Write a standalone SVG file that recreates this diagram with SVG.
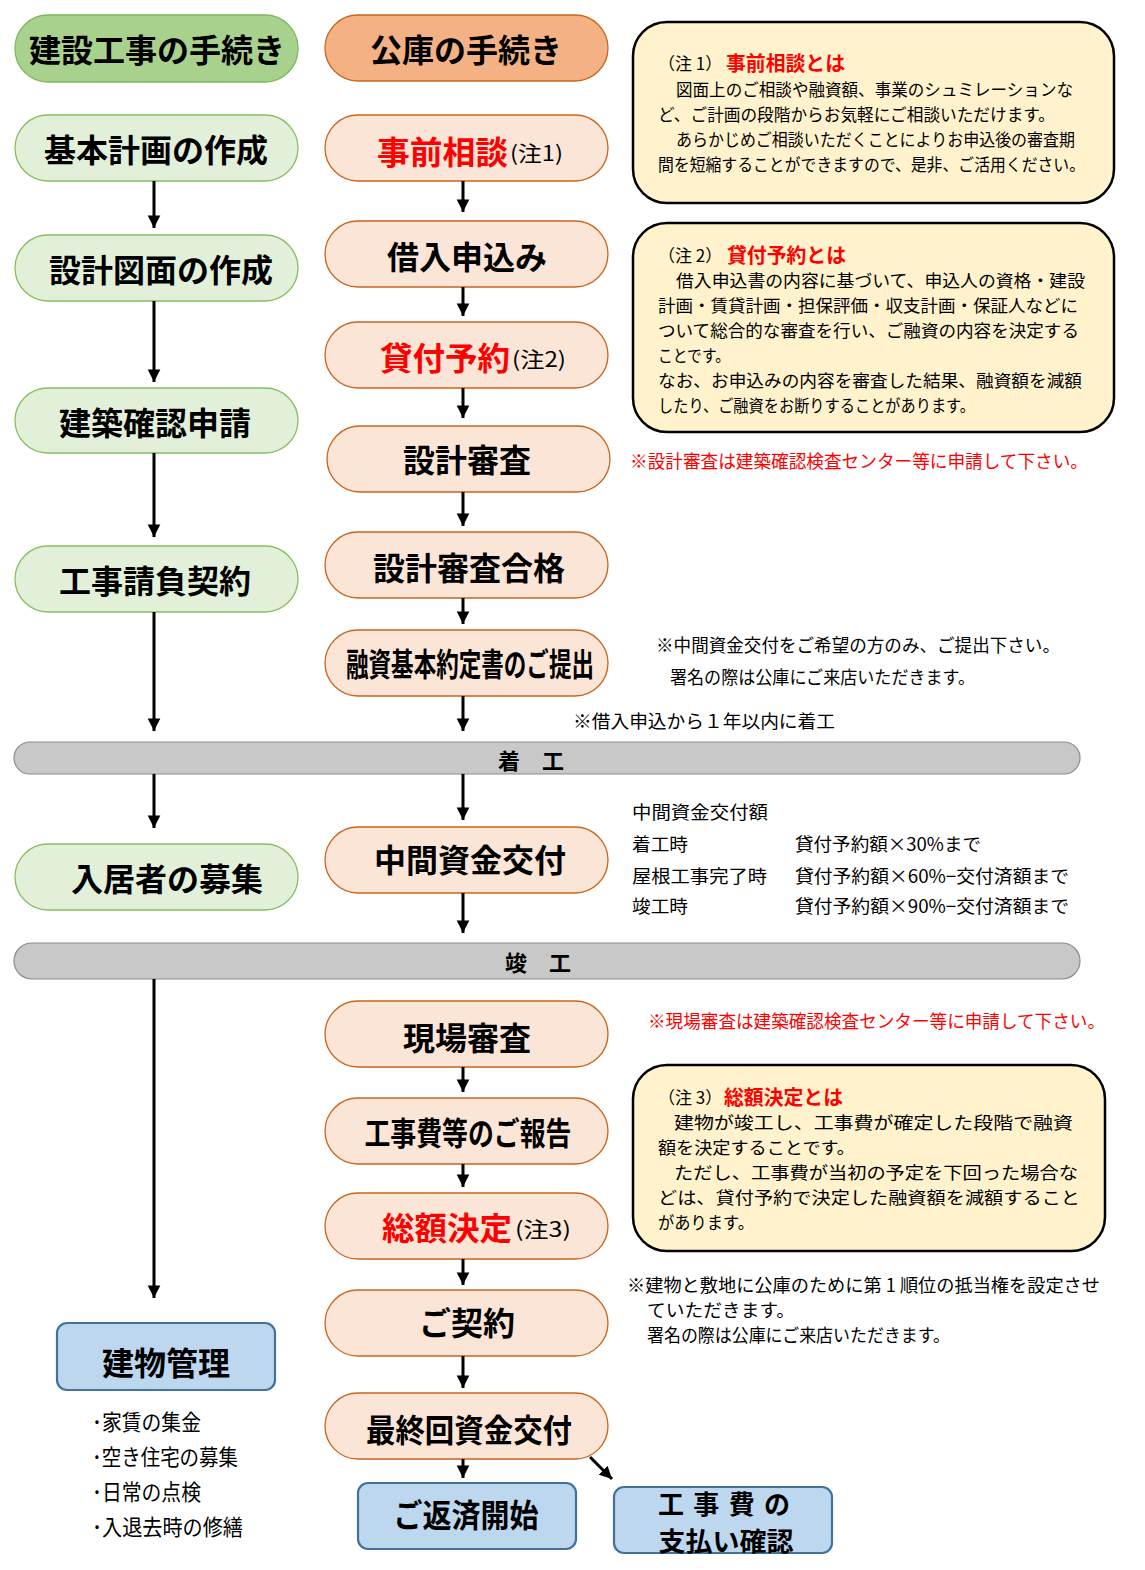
<svg xmlns="http://www.w3.org/2000/svg" width="1145" height="1570" viewBox="0 0 1145 1570">
<style>
text{font-family:"Noto Sans CJK JP","Noto Sans CJK SC",sans-serif;dominant-baseline:central;fill:#000}
.gH{fill:#a9d18e;stroke:#7fb85a;stroke-width:1.3}
.g{fill:#e2f0d9;stroke:#86bf60;stroke-width:1.3}
.oH{fill:#f4b183;stroke:#c9651f;stroke-width:1.3}
.o{fill:#fbe5d6;stroke:#c9651f;stroke-width:1.3}
.b{fill:#bdd7ee;stroke:#41719c;stroke-width:2.2}
.bar{fill:#c8c8c8;stroke:#8c8c8c;stroke-width:1.2}
.note{fill:#fff2cc;stroke:#000;stroke-width:2.5}
.lbl{font-size:32px;font-weight:bold;text-anchor:middle}
.red{fill:#ff0000}
.sm{font-size:21px}
.nt{font-size:17px}
.nh{font-size:20px;font-weight:bold;fill:#ff0000}
.rm{font-size:18px}
.bl{font-size:22px}
.conn line{stroke:#000;stroke-width:3;marker-end:url(#ah)}
</style>
<defs>
<marker id="ah" viewBox="0 0 10 10" refX="10" refY="5" markerWidth="4.2" markerHeight="4.4" orient="auto" markerUnits="strokeWidth">
<path d="M0,0 L10,5 L0,10 z" fill="#000"/>
</marker>
</defs>

<!-- Left column -->
<g id="n-kensetsu"><rect class="gH" x="15" y="15" width="283" height="67" rx="33"/><text class="lbl" x="157" y="48">建設工事の手続き</text></g>
<g id="n-kihon"><rect class="g" x="15" y="115" width="283" height="66" rx="33"/><text class="lbl" x="156" y="148">基本計画の作成</text></g>
<g id="n-sekkei"><rect class="g" x="15" y="235" width="283" height="66" rx="33"/><text class="lbl" x="161" y="268">設計図面の作成</text></g>
<g id="n-kakunin"><rect class="g" x="15" y="388" width="283" height="65" rx="33"/><text class="lbl" x="155" y="421">建築確認申請</text></g>
<g id="n-ukeoi"><rect class="g" x="15" y="546" width="283" height="66" rx="33"/><text class="lbl" x="155" y="579">工事請負契約</text></g>
<g id="n-boshu"><rect class="g" x="15" y="844" width="283" height="66" rx="33"/><text class="lbl" x="167" y="877">入居者の募集</text></g>

<!-- Middle column -->
<g id="n-koko"><rect class="oH" x="325" y="15" width="283" height="66" rx="33"/><text class="lbl" x="466" y="48">公庫の手続き</text></g>
<g id="n-jizen"><rect class="o" x="325" y="115" width="283" height="66" rx="33"/><text class="lbl red" x="377" y="150" style="text-anchor:start" textLength="131" lengthAdjust="spacingAndGlyphs">事前相談</text><text class="sm" x="510" y="152" textLength="53" lengthAdjust="spacingAndGlyphs">(注1)</text></g>
<g id="n-kariire"><rect class="o" x="325" y="221" width="283" height="66" rx="33"/><text class="lbl" x="467" y="255">借入申込み</text></g>
<g id="n-yoyaku"><rect class="o" x="325" y="322" width="283" height="66" rx="33"/><text class="lbl red" x="380" y="356" style="text-anchor:start" textLength="130" lengthAdjust="spacingAndGlyphs">貸付予約</text><text class="sm" x="512" y="358" textLength="54" lengthAdjust="spacingAndGlyphs">(注2)</text></g>
<g id="n-shinsa"><rect class="o" x="327" y="426" width="283" height="66" rx="33"/><text class="lbl" x="467" y="458">設計審査</text></g>
<g id="n-gokaku"><rect class="o" x="325" y="532" width="283" height="66" rx="33"/><text class="lbl" x="469" y="566">設計審査合格</text></g>
<g id="n-yakujo"><rect class="o" x="325" y="630" width="283" height="66" rx="33"/><text class="lbl" x="470" y="662" textLength="248" lengthAdjust="spacingAndGlyphs">融資基本約定書のご提出</text></g>
<g id="n-chukan"><rect class="o" x="325" y="827" width="283" height="66" rx="33"/><text class="lbl" x="470" y="858">中間資金交付</text></g>
<g id="n-genba"><rect class="o" x="325" y="1001" width="283" height="66" rx="33"/><text class="lbl" x="467" y="1036">現場審査</text></g>
<g id="n-hokoku"><rect class="o" x="325" y="1098" width="283" height="66" rx="33"/><text class="lbl" x="468" y="1131" textLength="207" lengthAdjust="spacingAndGlyphs">工事費等のご報告</text></g>
<g id="n-sogaku"><rect class="o" x="325" y="1193" width="283" height="66" rx="33"/><text class="lbl red" x="382" y="1226" style="text-anchor:start" textLength="130" lengthAdjust="spacingAndGlyphs">総額決定</text><text class="sm" x="515" y="1228" textLength="56" lengthAdjust="spacingAndGlyphs">(注3)</text></g>
<g id="n-keiyaku"><rect class="o" x="325" y="1290" width="283" height="66" rx="33"/><text class="lbl" x="467" y="1321">ご契約</text></g>
<g id="n-saishu"><rect class="o" x="325" y="1393" width="283" height="66" rx="33"/><text class="lbl" x="469" y="1428" textLength="206" lengthAdjust="spacingAndGlyphs">最終回資金交付</text></g>

<!-- Blue boxes -->
<g id="n-kanri"><rect class="b" x="57" y="1323" width="218" height="67" rx="10"/><text class="lbl" x="166" y="1361">建物管理</text></g>
<g id="n-hensai"><rect class="b" x="358" y="1483" width="218" height="66" rx="10"/><text class="lbl" x="466" y="1513" textLength="145" lengthAdjust="spacingAndGlyphs">ご返済開始</text></g>
<g id="n-shiharai"><rect class="b" x="614" y="1487" width="218" height="66" rx="10"/><text class="lbl" x="724" y="1502" style="font-size:26px" textLength="132" lengthAdjust="spacing">工 事 費 の</text><text class="lbl" x="726" y="1539" style="font-size:26px" textLength="135" lengthAdjust="spacingAndGlyphs">支払い確認</text></g>

<!-- Bars -->
<g id="bar-chakko"><rect class="bar" x="14" y="742" width="1066" height="32" rx="16"/><text x="531" y="759" style="font-size:22px;font-weight:bold;text-anchor:middle">着　工</text></g>
<g id="bar-shunko"><rect class="bar" x="14" y="943" width="1066" height="36" rx="18"/><text x="538" y="961" style="font-size:22px;font-weight:bold;text-anchor:middle">竣　工</text></g>

<!-- Notes -->
<g id="note1"><rect class="note" x="633" y="22" width="481" height="181" rx="34"/>
<text class="nt" x="658" y="62">（注 1）</text><text class="nh" x="726" y="62" textLength="119" lengthAdjust="spacingAndGlyphs">事前相談とは</text>
<text class="nt" x="676" y="88" textLength="397" lengthAdjust="spacingAndGlyphs">図面上のご相談や融資額、事業のシュミレーションな</text>
<text class="nt" x="658" y="113" textLength="397" lengthAdjust="spacingAndGlyphs">ど、ご計画の段階からお気軽にご相談いただけます。</text>
<text class="nt" x="676" y="138" textLength="399" lengthAdjust="spacingAndGlyphs">あらかじめご相談いただくことによりお申込後の審査期</text>
<text class="nt" x="658" y="163" textLength="427" lengthAdjust="spacingAndGlyphs">間を短縮することができますので、是非、ご活用ください。</text>
</g>
<g id="note2"><rect class="note" x="633" y="223" width="481" height="209" rx="34"/>
<text class="nt" x="658" y="254">（注 2）</text><text class="nh" x="727" y="254" textLength="119" lengthAdjust="spacingAndGlyphs">貸付予約とは</text>
<text class="nt" x="676" y="279" textLength="409" lengthAdjust="spacingAndGlyphs">借入申込書の内容に基づいて、申込人の資格・建設</text>
<text class="nt" x="658" y="304" textLength="420" lengthAdjust="spacingAndGlyphs">計画・賃貸計画・担保評価・収支計画・保証人などに</text>
<text class="nt" x="658" y="329" textLength="421" lengthAdjust="spacingAndGlyphs">ついて総合的な審査を行い、ご融資の内容を決定する</text>
<text class="nt" x="658" y="354" textLength="72" lengthAdjust="spacingAndGlyphs">ことです。</text>
<text class="nt" x="658" y="379" textLength="424" lengthAdjust="spacingAndGlyphs">なお、お申込みの内容を審査した結果、融資額を減額</text>
<text class="nt" x="658" y="404" textLength="317" lengthAdjust="spacingAndGlyphs">したり、ご融資をお断りすることがあります。</text>
</g>
<g id="note3"><rect class="note" x="633" y="1065" width="472" height="186" rx="34"/>
<text class="nt" x="658" y="1096">（注 3）</text><text class="nh" x="724" y="1096" textLength="119" lengthAdjust="spacingAndGlyphs">総額決定とは</text>
<text class="nt" x="674" y="1121" textLength="399" lengthAdjust="spacingAndGlyphs">建物が竣工し、工事費が確定した段階で融資</text>
<text class="nt" x="658" y="1146" textLength="197" lengthAdjust="spacingAndGlyphs">額を決定することです。</text>
<text class="nt" x="674" y="1171" textLength="404" lengthAdjust="spacingAndGlyphs">ただし、工事費が当初の予定を下回った場合な</text>
<text class="nt" x="658" y="1196" textLength="422" lengthAdjust="spacingAndGlyphs">どは、貸付予約で決定した融資額を減額すること</text>
<text class="nt" x="658" y="1221" textLength="96" lengthAdjust="spacingAndGlyphs">があります。</text>
</g>

<!-- Remarks -->
<g id="remarks">
<text class="rm red" x="630" y="460" textLength="458" lengthAdjust="spacingAndGlyphs">※設計審査は建築確認検査センター等に申請して下さい。</text>
<text class="rm" x="656" y="644" textLength="404" lengthAdjust="spacingAndGlyphs">※中間資金交付をご希望の方のみ、ご提出下さい。</text>
<text class="rm" x="670" y="676" textLength="305" lengthAdjust="spacingAndGlyphs">署名の際は公庫にご来店いただきます。</text>
<text class="rm" x="573" y="720" textLength="262" lengthAdjust="spacingAndGlyphs">※借入申込から１年以内に着工</text>
<text class="rm" x="632" y="811" textLength="136" lengthAdjust="spacingAndGlyphs">中間資金交付額</text>
<text class="rm" x="632" y="843" textLength="56" lengthAdjust="spacingAndGlyphs">着工時</text>
<text class="rm" x="795" y="843" textLength="186" lengthAdjust="spacingAndGlyphs">貸付予約額×30%まで</text>
<text class="rm" x="632" y="875" textLength="135" lengthAdjust="spacingAndGlyphs">屋根工事完了時</text>
<text class="rm" x="795" y="875" textLength="274" lengthAdjust="spacingAndGlyphs">貸付予約額×60%−交付済額まで</text>
<text class="rm" x="632" y="905" textLength="56" lengthAdjust="spacingAndGlyphs">竣工時</text>
<text class="rm" x="795" y="905" textLength="274" lengthAdjust="spacingAndGlyphs">貸付予約額×90%−交付済額まで</text>
<text class="rm red" x="648" y="1020" textLength="457" lengthAdjust="spacingAndGlyphs">※現場審査は建築確認検査センター等に申請して下さい。</text>
<text class="rm" x="627" y="1284" textLength="473" lengthAdjust="spacingAndGlyphs">※建物と敷地に公庫のために第 1 順位の抵当権を設定させ</text>
<text class="rm" x="647" y="1309" textLength="148" lengthAdjust="spacingAndGlyphs">ていただきます。</text>
<text class="rm" x="647" y="1334" textLength="303" lengthAdjust="spacingAndGlyphs">署名の際は公庫にご来店いただきます。</text>
</g>

<!-- Management list -->
<g id="kanri-list">
<text class="bl" x="92" y="1420" textLength="109" lengthAdjust="spacingAndGlyphs">･家賃の集金</text>
<text class="bl" x="92" y="1455" textLength="146" lengthAdjust="spacingAndGlyphs">･空き住宅の募集</text>
<text class="bl" x="92" y="1490" textLength="109" lengthAdjust="spacingAndGlyphs">･日常の点検</text>
<text class="bl" x="92" y="1525" textLength="151" lengthAdjust="spacingAndGlyphs">･入退去時の修繕</text>
</g>

<!-- Connectors -->
<g id="connectors" class="conn">
<line x1="154" y1="181" x2="154" y2="228"/>
<line x1="154" y1="301" x2="154" y2="382"/>
<line x1="154" y1="453" x2="154" y2="537"/>
<line x1="154" y1="612" x2="154" y2="731"/>
<line x1="154" y1="774" x2="154" y2="828"/>
<line x1="154" y1="979" x2="154" y2="1298"/>
<line x1="463" y1="181" x2="463" y2="212"/>
<line x1="463" y1="287" x2="463" y2="316"/>
<line x1="463" y1="388" x2="463" y2="418"/>
<line x1="463" y1="492" x2="463" y2="526"/>
<line x1="463" y1="598" x2="463" y2="624"/>
<line x1="463" y1="696" x2="463" y2="731"/>
<line x1="463" y1="774" x2="463" y2="820"/>
<line x1="463" y1="893" x2="463" y2="933"/>
<line x1="463" y1="1067" x2="463" y2="1092"/>
<line x1="463" y1="1164" x2="463" y2="1187"/>
<line x1="463" y1="1259" x2="463" y2="1285"/>
<line x1="463" y1="1356" x2="463" y2="1388"/>
<line x1="463" y1="1459" x2="463" y2="1478"/>
<line x1="590" y1="1457" x2="612" y2="1479"/>
</g>
</svg>
